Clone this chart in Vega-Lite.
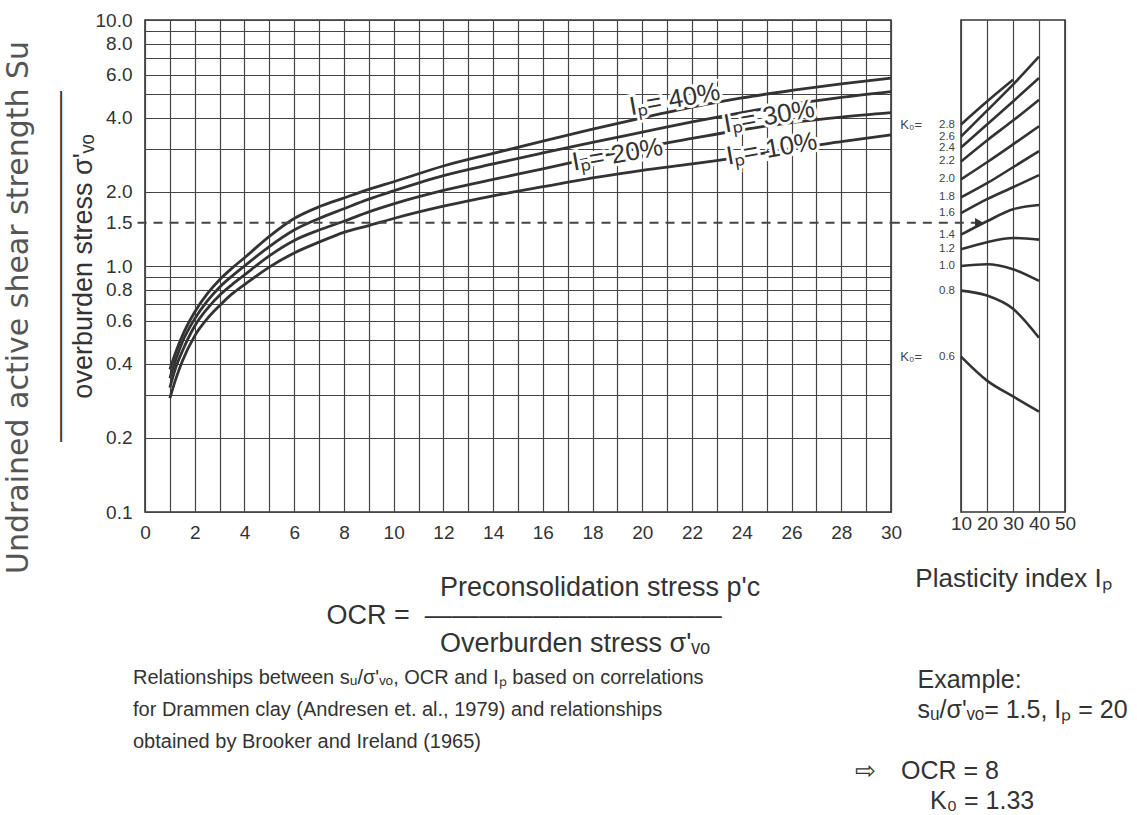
{
  "$schema": "https://vega.github.io/schema/vega-lite/v6.json",
  "background": "white",
  "padding": {"left": 4, "top": 10, "right": 0, "bottom": 0},
  "spacing": -49,
  "config": {
    "font": "Liberation Sans",
    "view": {"stroke": "#333333", "strokeWidth": 1.6},
    "axis": {
      "labelFont": "Liberation Sans",
      "labelFontSize": 19,
      "labelColor": "#333333",
      "titleFont": "Liberation Sans",
      "titleFontWeight": "normal",
      "titleColor": "#333333",
      "domain": false,
      "ticks": false,
      "gridColor": "#444444",
      "gridWidth": 1.2,
      "gridOpacity": 1,
      "labelBound": false,
      "labelFlush": false,
      "labelOverlap": false
    },
    "title": {"font": "Liberation Sans", "fontWeight": "normal", "color": "#333333"}
  },
  "title": {
    "text": "Undrained active shear strength Su",
    "orient": "left",
    "anchor": "middle",
    "font": "DejaVu Sans",
    "fontSize": 30,
    "fontWeight": "normal",
    "color": "#555555",
    "offset": 10,
    "dx": 105
  },
  "hconcat": [
    {
      "width": 746,
      "height": 492,
      "title": {
        "text": [
          "Relationships between sᵤ/σ'ᵥₒ, OCR and Iₚ based on correlations",
          "for Drammen clay (Andresen et. al., 1979) and relationships",
          "obtained by Brooker and Ireland (1965)"
        ],
        "orient": "bottom",
        "anchor": "start",
        "frame": "group",
        "align": "left",
        "fontSize": 20,
        "lineHeight": 32,
        "offset": 12,
        "dx": -12,
        "color": "#333333"
      },
      "encoding": {
        "x": {
          "field": "OCR", "type": "quantitative",
          "scale": {"domain": [0, 30], "nice": false},
          "axis": {
            "values": [0,1,2,3,4,5,6,7,8,9,10,11,12,13,14,15,16,17,18,19,20,21,22,23,24,25,26,27,28,29,30],
            "labelExpr": "datum.value % 2 === 0 ? datum.label : ''",
            "grid": true,
            "labelPadding": 11,
            "title": [
              "\u200b\u2003\u2003\u2003\u2003\u2009Preconsolidation stress p'c",
              "OCR =\u00a0\u00a0———————————",
              "\u200b\u2003\u2003\u2003\u2003\u2009Overburden stress σ'ᵥₒ"
            ],
            "titleFontSize": 27,
            "titleLineHeight": 28,
            "titleAlign": "left",
            "titleX": 181,
            "titlePadding": 32
          }
        },
        "y": {
          "field": "su", "type": "quantitative",
          "scale": {"type": "log", "domain": [0.1, 10], "nice": false},
          "axis": {
            "values": [0.1,0.2,0.3,0.4,0.5,0.6,0.7,0.8,0.9,1,1.5,2,3,4,5,6,7,8,9,10],
            "labelExpr": "indexof([0.1,0.2,0.4,0.6,0.8,1,1.5,2,4,6,8,10], datum.value) >= 0 ? format(datum.value, '.1f') : ''",
            "grid": true,
            "gridColor": {"condition": {"test": "datum.value === 1.5", "value": "transparent"}, "value": "#444444"},
            "labelPadding": 13,
            "title": ["—————————————", "overburden stress σ'ᵥₒ"],
            "titleFontSize": 27,
            "titleLineHeight": 24,
            "titlePadding": -2
          }
        }
      },
      "layer": [
        {
          "data": {"values": [
            {"Ip": 40, "OCR": 1, "su": 0.38}, {"Ip": 40, "OCR": 1.25, "su": 0.45}, {"Ip": 40, "OCR": 1.5, "su": 0.52}, {"Ip": 40, "OCR": 2, "su": 0.65}, {"Ip": 40, "OCR": 2.5, "su": 0.77}, {"Ip": 40, "OCR": 3, "su": 0.88}, {"Ip": 40, "OCR": 3.5, "su": 0.98}, {"Ip": 40, "OCR": 4, "su": 1.08}, {"Ip": 40, "OCR": 5, "su": 1.32}, {"Ip": 40, "OCR": 6, "su": 1.56}, {"Ip": 40, "OCR": 7, "su": 1.74}, {"Ip": 40, "OCR": 8, "su": 1.89}, {"Ip": 40, "OCR": 9, "su": 2.05}, {"Ip": 40, "OCR": 10, "su": 2.2}, {"Ip": 40, "OCR": 12, "su": 2.55}, {"Ip": 40, "OCR": 14, "su": 2.87}, {"Ip": 40, "OCR": 16, "su": 3.22}, {"Ip": 40, "OCR": 18, "su": 3.6}, {"Ip": 40, "OCR": 20, "su": 4.0}, {"Ip": 40, "OCR": 22, "su": 4.42}, {"Ip": 40, "OCR": 24, "su": 4.82}, {"Ip": 40, "OCR": 26, "su": 5.17}, {"Ip": 40, "OCR": 28, "su": 5.5}, {"Ip": 40, "OCR": 30, "su": 5.8},
            {"Ip": 30, "OCR": 1, "su": 0.35}, {"Ip": 30, "OCR": 1.25, "su": 0.42}, {"Ip": 30, "OCR": 1.5, "su": 0.49}, {"Ip": 30, "OCR": 2, "su": 0.61}, {"Ip": 30, "OCR": 2.5, "su": 0.72}, {"Ip": 30, "OCR": 3, "su": 0.82}, {"Ip": 30, "OCR": 3.5, "su": 0.91}, {"Ip": 30, "OCR": 4, "su": 1.0}, {"Ip": 30, "OCR": 5, "su": 1.2}, {"Ip": 30, "OCR": 6, "su": 1.4}, {"Ip": 30, "OCR": 7, "su": 1.56}, {"Ip": 30, "OCR": 8, "su": 1.71}, {"Ip": 30, "OCR": 9, "su": 1.87}, {"Ip": 30, "OCR": 10, "su": 2.02}, {"Ip": 30, "OCR": 12, "su": 2.33}, {"Ip": 30, "OCR": 14, "su": 2.6}, {"Ip": 30, "OCR": 16, "su": 2.88}, {"Ip": 30, "OCR": 18, "su": 3.18}, {"Ip": 30, "OCR": 20, "su": 3.5}, {"Ip": 30, "OCR": 22, "su": 3.85}, {"Ip": 30, "OCR": 24, "su": 4.2}, {"Ip": 30, "OCR": 26, "su": 4.55}, {"Ip": 30, "OCR": 28, "su": 4.85}, {"Ip": 30, "OCR": 30, "su": 5.12},
            {"Ip": 20, "OCR": 1, "su": 0.32}, {"Ip": 20, "OCR": 1.25, "su": 0.39}, {"Ip": 20, "OCR": 1.5, "su": 0.45}, {"Ip": 20, "OCR": 2, "su": 0.57}, {"Ip": 20, "OCR": 2.5, "su": 0.67}, {"Ip": 20, "OCR": 3, "su": 0.76}, {"Ip": 20, "OCR": 3.5, "su": 0.84}, {"Ip": 20, "OCR": 4, "su": 0.92}, {"Ip": 20, "OCR": 5, "su": 1.1}, {"Ip": 20, "OCR": 6, "su": 1.27}, {"Ip": 20, "OCR": 7, "su": 1.4}, {"Ip": 20, "OCR": 8, "su": 1.52}, {"Ip": 20, "OCR": 9, "su": 1.66}, {"Ip": 20, "OCR": 10, "su": 1.79}, {"Ip": 20, "OCR": 12, "su": 2.03}, {"Ip": 20, "OCR": 14, "su": 2.25}, {"Ip": 20, "OCR": 16, "su": 2.48}, {"Ip": 20, "OCR": 18, "su": 2.75}, {"Ip": 20, "OCR": 20, "su": 3.03}, {"Ip": 20, "OCR": 22, "su": 3.3}, {"Ip": 20, "OCR": 24, "su": 3.58}, {"Ip": 20, "OCR": 26, "su": 3.83}, {"Ip": 20, "OCR": 28, "su": 4.03}, {"Ip": 20, "OCR": 30, "su": 4.2},
            {"Ip": 10, "OCR": 1, "su": 0.29}, {"Ip": 10, "OCR": 1.25, "su": 0.35}, {"Ip": 10, "OCR": 1.5, "su": 0.41}, {"Ip": 10, "OCR": 2, "su": 0.52}, {"Ip": 10, "OCR": 2.5, "su": 0.61}, {"Ip": 10, "OCR": 3, "su": 0.69}, {"Ip": 10, "OCR": 3.5, "su": 0.77}, {"Ip": 10, "OCR": 4, "su": 0.84}, {"Ip": 10, "OCR": 5, "su": 0.99}, {"Ip": 10, "OCR": 6, "su": 1.13}, {"Ip": 10, "OCR": 7, "su": 1.25}, {"Ip": 10, "OCR": 8, "su": 1.37}, {"Ip": 10, "OCR": 9, "su": 1.46}, {"Ip": 10, "OCR": 10, "su": 1.56}, {"Ip": 10, "OCR": 12, "su": 1.75}, {"Ip": 10, "OCR": 14, "su": 1.93}, {"Ip": 10, "OCR": 16, "su": 2.1}, {"Ip": 10, "OCR": 18, "su": 2.28}, {"Ip": 10, "OCR": 20, "su": 2.45}, {"Ip": 10, "OCR": 22, "su": 2.6}, {"Ip": 10, "OCR": 24, "su": 2.78}, {"Ip": 10, "OCR": 26, "su": 3.0}, {"Ip": 10, "OCR": 28, "su": 3.2}, {"Ip": 10, "OCR": 30, "su": 3.41}
          ]},
          "mark": {"type": "line", "interpolate": "monotone", "stroke": "#333333", "strokeWidth": 2.8},
          "encoding": {
            "detail": {"field": "Ip", "type": "nominal"}
          }
        },
        {
          "data": {"values": [{"OCR": -0.3, "OCR2": 30, "su": 1.5}]},
          "mark": {"type": "rule", "strokeDash": [9, 7], "strokeWidth": 2, "color": "#444444"},
          "encoding": {
            "x2": {"field": "OCR2"}
          }
        },
        {
          "data": {"values": [
            {"OCR": 21.3, "su": 4.75, "label": "Iₚ= 40%"},
            {"OCR": 25.1, "su": 4.05, "label": "Iₚ= 30%"},
            {"OCR": 19.0, "su": 2.83, "label": "Iₚ= 20%"},
            {"OCR": 25.2, "su": 2.99, "label": "Iₚ= 10%"}
          ]},
          "layer": [
            {
              "mark": {"type": "text", "fontSize": 26, "angle": 350, "stroke": "white", "strokeWidth": 6, "fill": "white", "align": "center", "baseline": "middle"},
              "encoding": {"text": {"field": "label"}}
            },
            {
              "mark": {"type": "text", "fontSize": 26, "angle": 350, "fill": "#333333", "align": "center", "baseline": "middle"},
              "encoding": {"text": {"field": "label"}}
            }
          ]
        }
      ]
    },
    {
      "width": 104,
      "height": 492,
      "title": {
        "text": [
          "\u200b\u2003\u2003\u2002Example:",
          "\u200b\u2003\u2003\u2002sᵤ/σ'ᵥₒ= 1.5, Iₚ = 20"
        ],
        "subtitle": [
          "⇨\u2003OCR = 8",
          "\u200b\u2003\u2003\u2003K₀ = 1.33"
        ],
        "orient": "bottom",
        "anchor": "start",
        "frame": "group",
        "align": "left",
        "fontSize": 25,
        "lineHeight": 30,
        "subtitleFont": "Liberation Sans",
        "subtitleFontSize": 25,
        "subtitleLineHeight": 30,
        "subtitleColor": "#333333",
        "subtitlePadding": 36,
        "offset": 77,
        "dx": -106,
        "color": "#333333"
      },
      "encoding": {
        "x": {
          "field": "Ip", "type": "quantitative",
          "scale": {"domain": [10, 50], "nice": false},
          "axis": {
            "values": [10, 20, 30, 40, 50],
            "grid": true,
            "labelOverlap": false,
            "labelSeparation": 0,
            "labelPadding": 2,
            "title": "Plasticity index Iₚ",
            "titleFontSize": 26,
            "titlePadding": 32
          }
        },
        "y": {
          "field": "su", "type": "quantitative",
          "scale": {"type": "log", "domain": [0.1, 10], "nice": false},
          "axis": null
        }
      },
      "layer": [
        {
          "data": {"values": [
            {"K0": 2.8, "Ip": 10, "su": 3.76}, {"K0": 2.8, "Ip": 20, "su": 4.66}, {"K0": 2.8, "Ip": 30, "su": 5.71},
            {"K0": 2.6, "Ip": 10, "su": 3.36}, {"K0": 2.6, "Ip": 20, "su": 4.28}, {"K0": 2.6, "Ip": 30, "su": 5.46}, {"K0": 2.6, "Ip": 40, "su": 7.1},
            {"K0": 2.4, "Ip": 10, "su": 3.03}, {"K0": 2.4, "Ip": 20, "su": 3.76}, {"K0": 2.4, "Ip": 30, "su": 4.66}, {"K0": 2.4, "Ip": 40, "su": 5.81},
            {"K0": 2.2, "Ip": 10, "su": 2.66}, {"K0": 2.2, "Ip": 20, "su": 3.24}, {"K0": 2.2, "Ip": 30, "su": 3.9}, {"K0": 2.2, "Ip": 40, "su": 4.74},
            {"K0": 2.0, "Ip": 10, "su": 2.25}, {"K0": 2.0, "Ip": 20, "su": 2.64}, {"K0": 2.0, "Ip": 30, "su": 3.12}, {"K0": 2.0, "Ip": 40, "su": 3.7},
            {"K0": 1.8, "Ip": 10, "su": 1.9}, {"K0": 1.8, "Ip": 20, "su": 2.17}, {"K0": 1.8, "Ip": 30, "su": 2.52}, {"K0": 1.8, "Ip": 40, "su": 2.93},
            {"K0": 1.6, "Ip": 10, "su": 1.64}, {"K0": 1.6, "Ip": 20, "su": 1.87}, {"K0": 1.6, "Ip": 30, "su": 2.09}, {"K0": 1.6, "Ip": 40, "su": 2.34},
            {"K0": 1.4, "Ip": 10, "su": 1.34}, {"K0": 1.4, "Ip": 20, "su": 1.52}, {"K0": 1.4, "Ip": 30, "su": 1.7}, {"K0": 1.4, "Ip": 40, "su": 1.77},
            {"K0": 1.2, "Ip": 10, "su": 1.17}, {"K0": 1.2, "Ip": 20, "su": 1.25}, {"K0": 1.2, "Ip": 30, "su": 1.3}, {"K0": 1.2, "Ip": 40, "su": 1.28},
            {"K0": 1.0, "Ip": 10, "su": 1.0}, {"K0": 1.0, "Ip": 20, "su": 1.016}, {"K0": 1.0, "Ip": 30, "su": 0.97}, {"K0": 1.0, "Ip": 40, "su": 0.87},
            {"K0": 0.8, "Ip": 10, "su": 0.794}, {"K0": 0.8, "Ip": 20, "su": 0.758}, {"K0": 0.8, "Ip": 30, "su": 0.67}, {"K0": 0.8, "Ip": 40, "su": 0.511},
            {"K0": 0.6, "Ip": 10, "su": 0.428}, {"K0": 0.6, "Ip": 20, "su": 0.342}, {"K0": 0.6, "Ip": 30, "su": 0.295}, {"K0": 0.6, "Ip": 40, "su": 0.256}
          ]},
          "layer": [
            {
              "mark": {"type": "line", "interpolate": "monotone", "stroke": "#333333", "strokeWidth": 2.6},
              "encoding": {"detail": {"field": "K0", "type": "nominal"}}
            },
            {
              "transform": [{"filter": "datum.Ip === 10"}],
              "mark": {"type": "text", "fontSize": 11.5, "align": "right", "baseline": "middle", "dx": -6, "fill": "#444444"},
              "encoding": {"text": {"field": "K0", "type": "quantitative", "format": ".1f"}}
            },
            {
              "transform": [{"filter": "datum.Ip === 10 && (datum.K0 === 2.8 || datum.K0 === 0.6)"}],
              "mark": {"type": "text", "fontSize": 13, "align": "right", "baseline": "middle", "dx": -39, "fill": "#444444", "text": "K₀="}
            }
          ]
        },
        {
          "data": {"values": [{"Ip": -17, "Ip2": 17, "su": 1.5}]},
          "mark": {"type": "rule", "strokeDash": [9, 7], "strokeWidth": 2, "color": "#444444"},
          "encoding": {"x2": {"field": "Ip2"}}
        },
        {
          "data": {"values": [{"Ip": 17, "su": 1.5}]},
          "mark": {"type": "point", "shape": "triangle-right", "filled": true, "size": 90, "color": "#333333", "opacity": 1}
        }
      ]
    }
  ]
}
